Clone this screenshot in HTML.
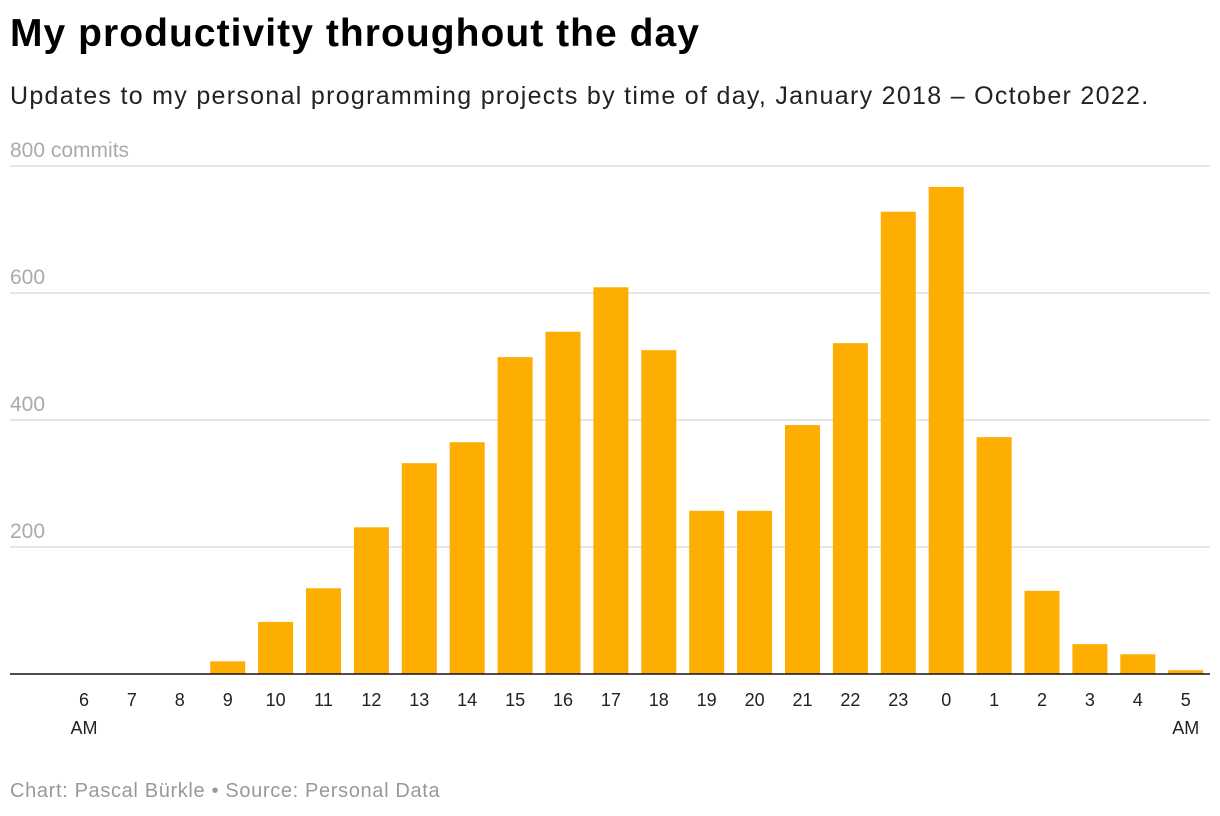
<!DOCTYPE html>
<html><head><meta charset="utf-8"><style>
body{margin:0;background:#fff;width:1220px;height:816px;overflow:hidden;font-family:"Liberation Sans",sans-serif}
#title{position:absolute;left:10px;top:12px;font-size:39px;font-weight:bold;color:#000;letter-spacing:1.05px}
#sub{position:absolute;left:10px;top:82px;font-size:25px;color:#222;letter-spacing:1.3px}
#foot{position:absolute;left:10px;top:780px;font-size:20px;color:#999;letter-spacing:0.65px}
svg{position:absolute;left:0;top:0}
</style></head><body>
<div id="title">My productivity throughout the day</div>
<div id="sub">Updates to my personal programming projects by time of day, January 2018 – October 2022.</div>
<svg id="chart" width="1220" height="816"></svg>
<div id="foot">Chart: Pascal Bürkle • Source: Personal Data</div>
<script>
const hours=["6","7","8","9","10","11","12","13","14","15","16","17","18","19","20","21","22","23","0","1","2","3","4","5"];
const commits=[0,0,0,20,82,135,231,332,365,499,539,609,510,257,257,392,521,728,767,373,131,47,31,6];
const yTicks=[200,400,600,800];
const NS="http://www.w3.org/2000/svg";
const svg=document.getElementById('chart');
const y0=674,pxPer=(674-166)/800;
const yScale=v=>y0-v*pxPer;
const xScale=i=>84+i*47.9;
function mk(t,a){const e=document.createElementNS(NS,t);for(const k in a)e.setAttribute(k,a[k]);svg.appendChild(e);return e;}
yTicks.forEach(v=>{
  const l=mk('line',{x1:10,x2:1210,y1:yScale(v),y2:yScale(v),stroke:'#ddd','stroke-width':1.5});
  
  
  const t=mk('text',{x:10,y:yScale(v)-9,'font-size':21,fill:'#aaa','font-family':'Liberation Sans, sans-serif'});
  t.textContent=v===800?'800 commits':String(v);
  
  
});
commits.forEach((v,i)=>{
  const r=mk('rect',{x:xScale(i)-17.5,y:yScale(v),width:35,height:y0-yScale(v),fill:'#fdae00'});
  
  
  const t=mk('text',{x:xScale(i),y:706,'font-size':18,fill:'#222','text-anchor':'middle','font-family':'Liberation Sans, sans-serif'});
  t.textContent=hours[i];
  
  
  if(i===0||i===hours.length-1){
    const a=mk('text',{x:xScale(i),y:734,'font-size':18,fill:'#222','text-anchor':'middle','font-family':'Liberation Sans, sans-serif'});
    a.textContent='AM';
    
    
  }
});
const b=mk('line',{x1:10,x2:1210,y1:y0,y2:y0,stroke:'#111','stroke-width':1.5});


</script>
</body></html>
